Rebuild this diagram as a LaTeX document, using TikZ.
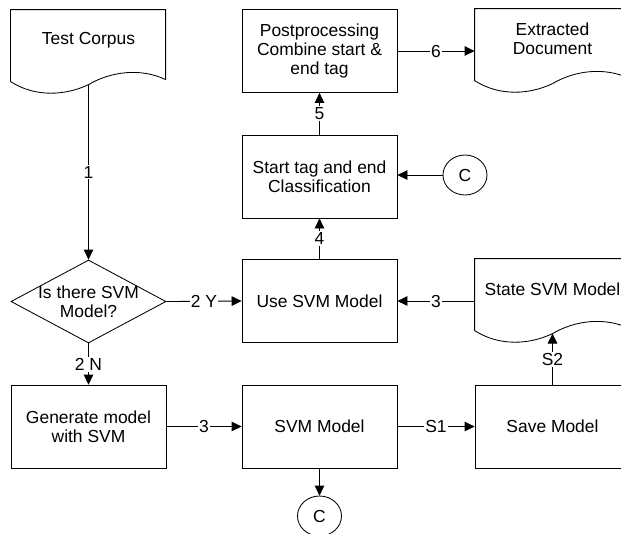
\documentclass[tikz,border=0pt]{standalone}
\usepackage{fontspec}
\setmainfont{Liberation Sans}
\usetikzlibrary{arrows.meta,shapes.geometric}

\tikzset{
  proc/.style={draw, minimum width=3.875cm, minimum height=2.075cm, inner sep=0pt, align=center},
  doc/.style={minimum width=3.875cm, minimum height=1.5cm, inner sep=0pt, align=center},
  decision/.style={diamond, draw, minimum width=3.875cm, minimum height=2.075cm, inner sep=0pt},
  conn/.style={ellipse, draw, minimum width=1.1cm, minimum height=1cm, inner sep=0pt},
  flow/.style={-{Triangle[length=2.5mm,width=2.4mm]}},
  tag/.style={fill=white, inner sep=1pt}
}

% page outline with a wavy bottom edge round a doc node
\newcommand{\docshape}[1]{%
  \begin{scope}[shift={(#1.north west)}]
    \draw (0,-1.8) -- (0,0) -- (3.875,0) -- (3.875,-1.75)
      .. controls (3.25,-1.45) and (2.5,-1.55) .. (1.95,-1.875)
      .. controls (1.375,-2.15) and (0.625,-2.2) .. (0,-1.8);
    \coordinate (#1-w) at (1.95,-1.875);
  \end{scope}}

\begin{document}
\begin{tikzpicture}[line width=0.6pt, font=\fontsize{12.4}{13.2}\selectfont]
	%%%%% START %%%%%
	\useasboundingbox (0,0) rectangle (15.525,-13.325);
	
	\node[doc] (test) at (2.2125, -1.0) {Test Corpus};
	\docshape{test}
	\node[doc] (extracted) at (13.8125, -0.975) {Extracted\\Document};
	\docshape{extracted}
	\node[doc] (state) at (13.8125, -7.225) {State SVM Model};
	\docshape{state}
	
	\node[proc] (post) at (7.9875, -1.275) {Postprocessing\\Combine start \&\\end tag};
	\node[proc] (start) at (7.9875, -4.4125) {Start tag and end\\Classification};
	\node[proc] (use) at (7.9875, -7.525) {Use SVM Model};
	\node[proc] (svm) at (7.9875, -10.6625) {SVM Model};
	\node[proc] (generate) at (2.2125, -10.6625) {Generate model\\with SVM};
	\node[proc] (save) at (13.8125, -10.6625) {Save Model};
	
	\node[decision, label={[align=center]center:Is there SVM\\Model?}] (isthere) at (2.2125, -7.5375) {};
	
	\node[conn] (cright) at (11.625, -4.375) {C};
	\node[conn] (cbottom) at (7.9875, -12.9) {C};
	
	\draw[flow] (isthere.north |- test-w) -- node[tag] {1} (isthere.north);
	\draw[flow] (isthere.east) -- node[tag] {2 Y} (use.west);
	\draw[flow] (isthere.south) -- node[tag] {2 N} (generate.north);
	\draw[flow] (generate) -- node[tag] {3} (svm);
	\draw[flow] (svm) -- node[tag] {S1} (save);
	\draw[flow] (save.north) -- node[tag] {S2} (save.north |- state-w);
	\draw[flow] (use.east -| state.west) -- node[tag] {3} (use.east);
	\draw[flow] (use) -- node[tag] {4} (start);
	\draw[flow] (start) -- node[tag] {5} (post);
	\draw[flow] (post.east) -- node[tag] {6} (post.east -| extracted.west);
	\draw[flow] (cright.west) -- (cright.west -| start.east);
	\draw[flow] (svm) -- (cbottom);
	
	%%%%% END %%%%%
\end{tikzpicture}
\end{document}
